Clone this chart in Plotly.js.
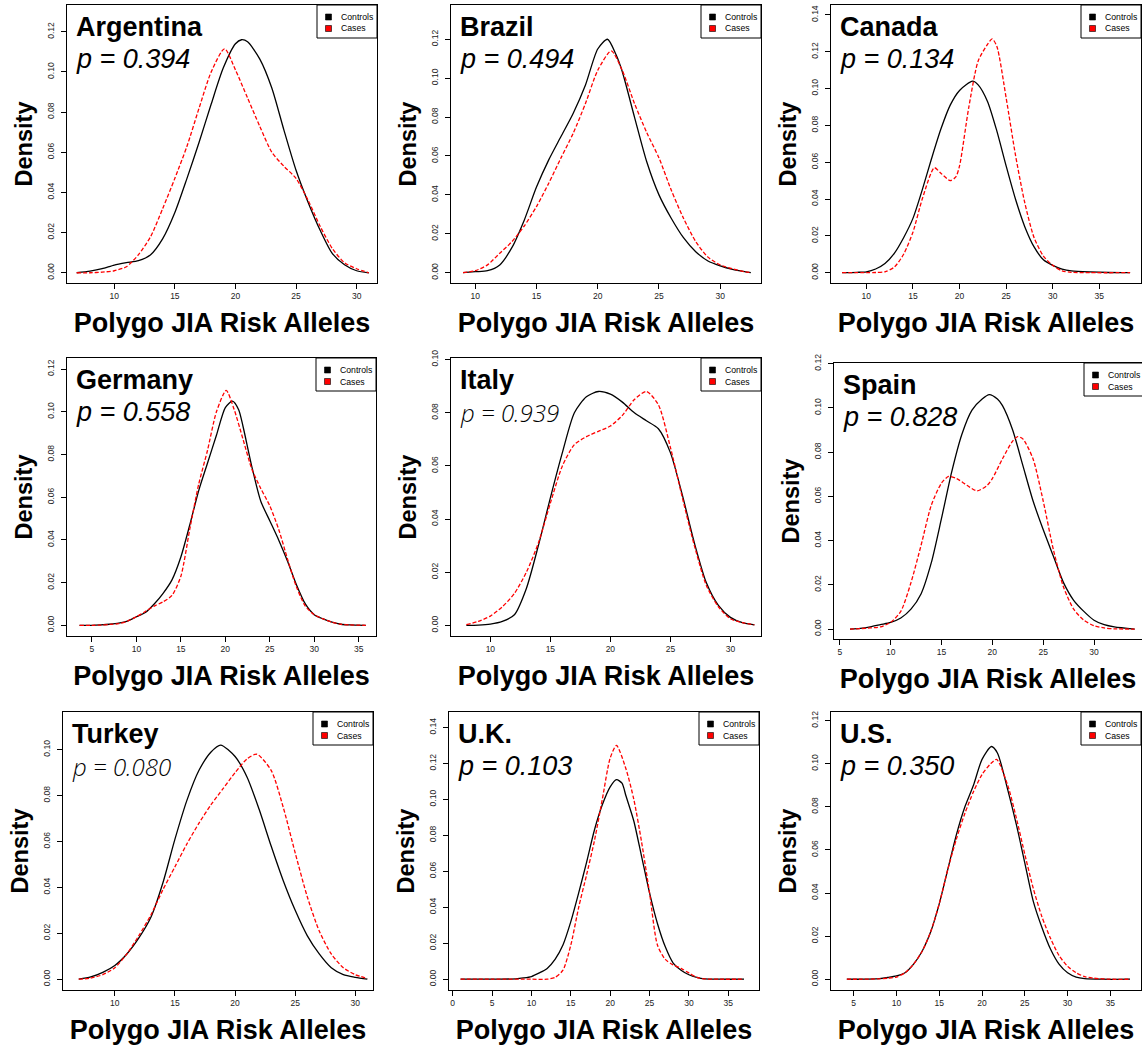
<!DOCTYPE html>
<html><head><meta charset="utf-8">
<script src="https://cdn.plot.ly/plotly-3.0.1.min.js"></script>
<style>html,body{margin:0;padding:0;background:#fff;overflow:hidden}</style>
</head><body><div id="chart" style="width:1142px;height:1045px"></div>
<script>
// ---------------- DATA ----------------
const countries = ['Argentina','Brazil','Canada','Germany','Italy','Spain','Turkey','U.K.','U.S.'];
const pValues = ['0.394','0.494','0.134','0.558','0.939','0.828','0.080','0.103','0.350'];
const seriesNames = ['Controls','Cases'];
const xTitle = 'Polygo JIA Risk Alleles';
const yTitle = 'Density';

const argCtrlX = [6.9,8,9,10,11,12,13,14,15,16,17,18,19,20,20.5,21,22,23,24,25,26,27,28,29,30,31];
const argCtrlY = [0,0.0008,0.002,0.0038,0.005,0.006,0.009,0.017,0.030,0.047,0.065,0.084,0.102,0.114,0.116,0.115,0.1065,0.092,0.071,0.051,0.035,0.021,0.0095,0.004,0.001,0];
const argCaseX = [6.9,8,9,10,11,12,13,14,15,16,17,18,19.1,20,21,22,23,24,25,26,27,28,29,30,31];
const argCaseY = [0,0,0.0003,0.001,0.003,0.009,0.018,0.032,0.047,0.063,0.082,0.100,0.1115,0.101,0.087,0.073,0.060,0.053,0.047,0.036,0.023,0.012,0.005,0.002,0];

const braCtrlX = [9.0,10,11,12,13,14,15,16,17,18,19,20,20.8,21.5,22,23,24,25,26,27,28,29,30,31,32,32.5];
const braCtrlY = [0,0.0005,0.001,0.004,0.013,0.027,0.044,0.058,0.070,0.082,0.0965,0.115,0.120,0.112,0.1034,0.080,0.057,0.040,0.028,0.018,0.0108,0.006,0.0035,0.0017,0.0005,0];
const braCaseX = [9.0,10,11,12,13,14,15,16,17,18,19,20,21.1,22,23,24,25,26,27,28,29,30,31,32,32.5];
const braCaseY = [0,0.001,0.004,0.010,0.016,0.024,0.034,0.046,0.059,0.0717,0.087,0.104,0.114,0.104,0.087,0.072,0.059,0.0425,0.028,0.016,0.008,0.004,0.002,0.0005,0];

const canCtrlX = [7.4,9,10,11,12,13,14,15,16,17,18,19,20,21.4,22,23,24,25,26,27,28,29,30,31,32,34,36,38.3];
const canCtrlY = [0,0.0002,0.0005,0.002,0.005,0.0105,0.019,0.0295,0.045,0.062,0.078,0.091,0.099,0.104,0.102,0.093,0.077,0.058,0.040,0.025,0.014,0.007,0.004,0.002,0.001,0.0004,0.0001,0];
const canCaseX = [7.4,10,11,12,13,14,15,16,17.3,18,19,19.6,20,21,22,23,23.5,24,25,26,27,28,29,30,31,32,34,38.3];
const canCaseY = [0,0,0.0001,0.0005,0.003,0.010,0.022,0.040,0.057,0.054,0.050,0.052,0.058,0.090,0.115,0.124,0.127,0.123,0.095,0.064,0.038,0.019,0.009,0.004,0.001,0.0002,0,0];

const gerCtrlX = [3.6,5,6,7,8,9,10,11,12,13,14,15,16,17,18,19,20,20.8,21.5,22,23,24,25,26,27,28,29,30,31,32,33,34,35.8];
const gerCtrlY = [0,0,0.0002,0.0005,0.001,0.002,0.004,0.006,0.010,0.015,0.0213,0.032,0.047,0.063,0.076,0.089,0.102,0.105,0.101,0.093,0.074,0.058,0.049,0.040,0.030,0.019,0.010,0.005,0.003,0.0015,0.0005,0.0002,0];
const gerCaseX = [3.6,5,6,7,8,9,10,11,12,13,14,15,16,17,18,19,20.1,21,22,23,24,25,26,27,28,29,30,31,32,33,34,35.8];
const gerCaseY = [0,0,0.0001,0.0004,0.0008,0.002,0.004,0.0065,0.009,0.011,0.014,0.023,0.045,0.066,0.082,0.100,0.110,0.101,0.087,0.073,0.064,0.056,0.045,0.031,0.018,0.009,0.005,0.003,0.0015,0.0005,0.0002,0];

const itaCtrlX = [8,9,10,11,12,13,14,15,16,17,18,19,20,21,22,23,24,25,26,27,28,29,30,31,32];
const itaCtrlY = [0,0.0001,0.0005,0.0015,0.004,0.0139,0.030,0.048,0.065,0.080,0.086,0.088,0.087,0.084,0.080,0.077,0.074,0.065,0.049,0.031,0.016,0.0075,0.003,0.001,0.0002];
const itaCaseX = [8,9,10,11,12,13,14,15,16,17,18,19,20,21,22,23,24,25,26,27,28,29,30,31,32];
const itaCaseY = [0.0003,0.0015,0.0035,0.007,0.012,0.020,0.031,0.046,0.060,0.068,0.071,0.073,0.075,0.079,0.085,0.088,0.083,0.067,0.048,0.030,0.015,0.007,0.0025,0.001,0.0002];

const spaCtrlX = [6,7,8,9,10,11,12,13,14,15,16,17,18,19,19.7,20.5,21,22,23,24,25,26,27,28,29,30,31,32,34];
const spaCtrlY = [0,0.0003,0.001,0.002,0.003,0.005,0.009,0.016,0.030,0.050,0.071,0.088,0.099,0.104,0.106,0.104,0.101,0.090,0.074,0.058,0.045,0.033,0.021,0.013,0.008,0.004,0.002,0.001,0];
const spaCaseX = [6,7,8,9,10,11,12,13,14,15,15.7,16.5,17.5,18.5,19.5,20,21,22,22.5,23,24,25,26,27,28,29,30,31,32,34];
const spaCaseY = [0,0.0002,0.0005,0.001,0.003,0.008,0.021,0.038,0.056,0.066,0.069,0.068,0.065,0.0625,0.065,0.068,0.077,0.085,0.087,0.086,0.077,0.058,0.036,0.019,0.009,0.004,0.0015,0.0005,0.0001,0];

const turCtrlX = [7,8,9,10,11,12,13,14,15,16,17,18,18.8,20,21,22,23,24,25,26,27,28,29,30,31];
const turCtrlY = [0,0.001,0.003,0.006,0.011,0.018,0.027,0.042,0.061,0.078,0.091,0.099,0.102,0.097,0.088,0.074,0.058,0.043,0.030,0.019,0.011,0.005,0.002,0.0008,0];
const turCaseX = [7,8,9,10,11,12,13,14,15,16,17,18,19,20,21,21.8,23,24,25,26,27,28,29,30,31];
const turCaseY = [0,0.0005,0.002,0.005,0.011,0.019,0.028,0.039,0.049,0.059,0.068,0.076,0.083,0.090,0.096,0.098,0.091,0.075,0.055,0.036,0.021,0.011,0.005,0.002,0.0003];

const ukCtrlX = [1,5,8,9,10,11,12,13,14,15,16,17,18,19,20,20.8,21.5,22,23,24,25,26,27,28,29,30,31,32,34,37];
const ukCtrlY = [0,0,0.0002,0.0007,0.0015,0.0035,0.006,0.011,0.019,0.032,0.048,0.065,0.083,0.097,0.107,0.111,0.109,0.102,0.088,0.068,0.048,0.031,0.018,0.009,0.005,0.0025,0.001,0.0002,0,0];
const ukCaseX = [1,5,10,12,13,14,15,16,17,18,19,20,20.8,22,23,24,25,26,27,28,29,30,31,32,34,37];
const ukCaseY = [0,0,0,0,0.001,0.005,0.019,0.040,0.058,0.077,0.100,0.123,0.130,0.117,0.100,0.076,0.048,0.019,0.011,0.008,0.006,0.0035,0.001,0.0002,0,0];

const usCtrlX = [4.2,6,8,9,10,11,12,13,14,15,16,17,18,19,20,21.1,21.8,23,24,25,26,27,28,29,30,31,32,34,37.3];
const usCtrlY = [0,0,0.0003,0.0008,0.0015,0.003,0.007,0.013,0.022,0.035,0.051,0.067,0.080,0.090,0.102,0.108,0.105,0.088,0.072,0.054,0.036,0.024,0.014,0.007,0.003,0.001,0.0003,0,0];
const usCaseX = [4.2,6,8,9,10,11,12,13,14,15,16,17,18,19,20,21,21.7,23,24,25,26,27,28,29,30,31,32,33,35,37.3];
const usCaseY = [0,0,0.0002,0.0005,0.001,0.003,0.007,0.013,0.022,0.035,0.051,0.065,0.077,0.087,0.095,0.100,0.102,0.090,0.075,0.058,0.042,0.029,0.019,0.011,0.006,0.003,0.0012,0.0005,0,0];

const controlsX = [argCtrlX,braCtrlX,canCtrlX,gerCtrlX,itaCtrlX,spaCtrlX,turCtrlX,ukCtrlX,usCtrlX];
const controlsY = [argCtrlY,braCtrlY,canCtrlY,gerCtrlY,itaCtrlY,spaCtrlY,turCtrlY,ukCtrlY,usCtrlY];
const casesX = [argCaseX,braCaseX,canCaseX,gerCaseX,itaCaseX,spaCaseX,turCaseX,ukCaseX,usCaseX];
const casesY = [argCaseY,braCaseY,canCaseY,gerCaseY,itaCaseY,spaCaseY,turCaseY,ukCaseY,usCaseY];

// ---------------- LAYOUT CONFIG (positions/styles) ----------------
const W = 1142, H = 1045;
const panelBoxes = [
  [67,5,377,283],[451,5,761,283],[831,5,1141,283],
  [67,358,376,636],[451,358,761,636],[834,363,1142,639],
  [63,712,373,990],[449,712,759,990],[831,712,1141,990]];
const xRanges = [[6.10,31.68],[8.02,33.33],[6.21,39.47],[2.19,36.95],[6.72,32.55],[4.43,34.72],[5.69,31.47],[-0.47,38.9],[2.35,38.58]];
const yRanges = [[-0.0051,0.1333],[-0.0053,0.1376],[-0.0056,0.1454],[-0.005,0.1252],[-0.004,0.1006],[-0.0045,0.1203],[-0.0047,0.1164],[-0.006,0.1486],[-0.005,0.124]];
const legendRight = [377,761,1141,376,761,1144,373,759,1141];
const thinP = [false,false,false,false,true,false,true,false,false];

const FONT = 'Liberation Sans, Arial, Helvetica, sans-serif';
const px = v => v / W;
const py = v => 1 - v / H;

const traces = [];
const layout = {
  width: W, height: H,
  margin: {l:0, r:0, t:0, b:0},
  paper_bgcolor: '#fff', plot_bgcolor: '#fff',
  showlegend: false,
  annotations: [], shapes: []
};

for (let i = 0; i < 9; i++) {
  const s = i === 0 ? '' : String(i + 1);
  const [l, t, r, b] = panelBoxes[i];
  traces.push({
    x: controlsX[i], y: controlsY[i], xaxis: 'x' + s, yaxis: 'y' + s,
    type: 'scatter', mode: 'lines', name: seriesNames[0],
    line: {color: '#000', width: 1.3, shape: 'spline', smoothing: 0.7},
    hoverinfo: 'skip'
  });
  traces.push({
    x: casesX[i], y: casesY[i], xaxis: 'x' + s, yaxis: 'y' + s,
    type: 'scatter', mode: 'lines', name: seriesNames[1],
    line: {color: '#ff0000', width: 1.3, dash: '4px,2px', shape: 'spline', smoothing: 0.7},
    hoverinfo: 'skip'
  });
  layout['xaxis' + s] = {
    domain: [px(l), Math.min(1, px(r))], range: xRanges[i], anchor: 'y' + s,
    showline: true, mirror: true, linecolor: '#000', linewidth: 1,
    ticks: 'outside', ticklen: 5, tickcolor: '#000', tickwidth: 1,
    showgrid: false, zeroline: false, dtick: 5, tick0: 0,
    tickfont: {family: FONT, size: 8.5, color: '#222'},
    automargin: false,
    title: {text: xTitle, standoff: 12, font: {family: FONT, size: 27, weight: 'bold', color: '#000'}}
  };
  layout['yaxis' + s] = {
    domain: [py(b), py(t)], range: yRanges[i], anchor: 'x' + s,
    showline: true, mirror: true, linecolor: '#000', linewidth: 1,
    ticks: 'outside', ticklen: 5, tickcolor: '#000', tickwidth: 1,
    showgrid: false, zeroline: false, dtick: 0.02, tick0: 0, tickformat: '.2f',
    tickangle: -90, ticklabelstandoff: 4,
    tickfont: {family: FONT, size: 8.5, color: '#222'},
    automargin: false,
    title: {text: yTitle, standoff: 6, font: {family: FONT, size: 23.5, weight: 'bold', color: '#000'}}
  };
  // country + p value
  layout.annotations.push({
    xref: 'paper', yref: 'paper', x: px(l + 7), y: py(t + 22),
    xanchor: 'left', yanchor: 'middle', showarrow: false,
    text: countries[i], font: {family: FONT, size: 27, weight: 'bold', color: '#000'}
  });
  layout.annotations.push({
    xref: 'paper', yref: 'paper', x: px(l + 7), y: py(t + 54),
    xanchor: 'left', yanchor: 'middle', showarrow: false,
    text: 'p = ' + pValues[i],
    font: thinP[i]
      ? {family: 'Open Sans, Lato, sans-serif', size: 24, style: 'italic', weight: 300, color: '#000'}
      : {family: FONT, size: 27, style: 'italic', color: '#000'}
  });
  // legend box
  const R = legendRight[i];
  layout.shapes.push({type: 'rect', xref: 'paper', yref: 'paper',
    x0: px(R - 60), x1: px(R), y0: py(t), y1: py(t + 33),
    line: {color: '#000', width: 1}, fillcolor: '#fff'});
  layout.shapes.push({type: 'rect', xref: 'paper', yref: 'paper',
    x0: px(R - 51.5), x1: px(R - 45.5), y0: py(t + 9), y1: py(t + 15),
    line: {color: '#000', width: 0.6}, fillcolor: '#000'});
  layout.shapes.push({type: 'rect', xref: 'paper', yref: 'paper',
    x0: px(R - 51.5), x1: px(R - 45.5), y0: py(t + 20.5), y1: py(t + 26.5),
    line: {color: '#000', width: 0.6}, fillcolor: '#ff0000'});
  layout.annotations.push({xref: 'paper', yref: 'paper', x: px(R - 38), y: py(t + 12.3),
    xanchor: 'left', yanchor: 'middle', showarrow: false, text: seriesNames[0],
    font: {family: FONT, size: 8.7, color: '#000'}});
  layout.annotations.push({xref: 'paper', yref: 'paper', x: px(R - 38), y: py(t + 23.5),
    xanchor: 'left', yanchor: 'middle', showarrow: false, text: seriesNames[1],
    font: {family: FONT, size: 8.7, color: '#000'}});
}

Plotly.newPlot('chart', traces, layout, {staticPlot: true, displayModeBar: false});
</script></body></html>
